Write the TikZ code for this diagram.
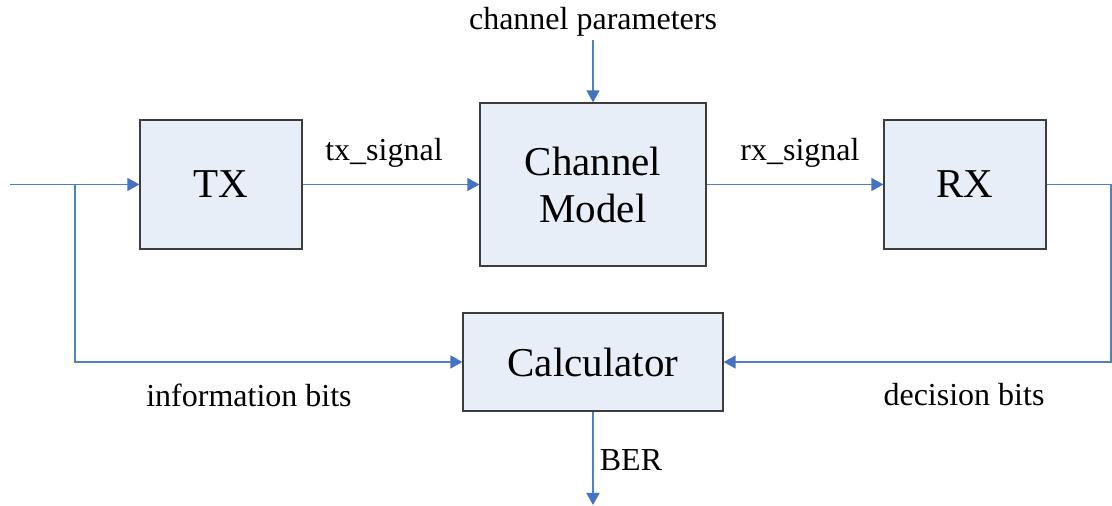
\documentclass[tikz,border=0pt]{standalone}
\usepackage{fontspec}
\setmainfont{Liberation Serif}
\usetikzlibrary{arrows.meta}
\definecolor{boxfill}{RGB}{232,238,247}
\definecolor{boxline}{RGB}{60,60,60}
\definecolor{wire}{RGB}{79,129,189}
\definecolor{tip}{RGB}{68,114,196}
\tikzset{
  block/.style={draw=boxline, line width=0.6pt, fill=boxfill, align=center,
    font=\fontsize{20.5}{23.5}\selectfont, inner sep=0pt},
  lbl/.style={font=\fontsize{16}{18}\selectfont, inner sep=1pt},
  wireline/.style={draw=wire, line width=0.7pt},
  flow/.style={wireline, -{Triangle[length=6pt, width=6.5pt, color=tip]}},
}
\begin{document}
\begin{tikzpicture}[x=0.5pt, y=-0.5pt]
\useasboundingbox (0,0) rectangle (1112,506);

% blocks
\node[block, minimum width=81pt, minimum height=64.5pt] (tx) at (221,184.5) {TX};
\node[block, minimum width=113pt, minimum height=81.5pt] (chan) at (593,184.5) {Channel\\Model};
\node[block, minimum width=81pt, minimum height=64.5pt] (rx) at (965,184.5) {RX};
\node[block, minimum width=130pt, minimum height=49pt] (calc) at (593,362) {Calculator};

% labels
\node[lbl] (params) at (593,22) {channel parameters};
\node[lbl] (txs) at (384,153) {tx\_signal};
\node[lbl] (rxs) at (800,153) {rx\_signal};
\node[lbl] (info) at (249,395) {information bits};
\node[lbl] (dec) at (964,395) {decision bits};
\node[lbl] (ber) at (631,460) {BER};

% wiring points
\coordinate (in) at (10,184.5);
\coordinate (split) at (75,184.5);
\coordinate (loop) at (1111,184.5);
\coordinate (out) at (593,505);
\coordinate (ptop) at (593,40);

% connectors
\draw[flow] (in) -- (tx.west);
\draw[flow] (split) |- (calc.west);
\draw[flow] (tx.east) -- (chan.west);
\draw[flow] (ptop) -- (chan.north);
\draw[flow] (chan.east) -- (rx.west);
\draw[wireline] (rx.east) -- (loop);
\draw[flow] (loop) |- (calc.east);
\draw[flow] (calc.south) -- (out);
\end{tikzpicture}
\end{document}
